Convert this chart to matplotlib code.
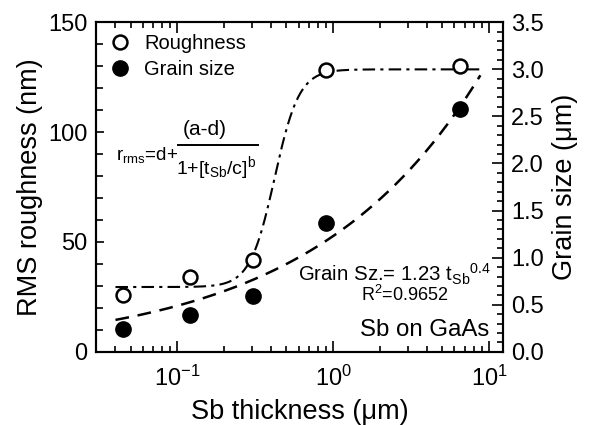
import numpy as np
import matplotlib
matplotlib.use("Agg")
import matplotlib.pyplot as plt
from matplotlib.lines import Line2D
from matplotlib.ticker import MultipleLocator, LogLocator

plt.rcParams['font.family'] = ['Liberation Sans', 'DejaVu Sans']
plt.rcParams['mathtext.fontset'] = 'custom'
plt.rcParams['mathtext.rm'] = 'Liberation Sans'
plt.rcParams['mathtext.it'] = 'Liberation Sans'

# measured points
thickness = [0.045, 0.121, 0.305, 0.90, 6.5]
roughness = [26, 34, 42, 128, 130]
grain_size = [0.24, 0.39, 0.59, 1.37, 2.58]

# fit parameters (sigmoid for roughness, power law for grain size)
fit_a, fit_b, fit_c, fit_d = 29.5, 5.5, 0.42, 128.5
grain_k, grain_n = 1.23, 0.4
fit_range = (0.04, 8.8)

t = np.geomspace(fit_range[0], fit_range[1], 400)
r_fit = fit_d + (fit_a - fit_d) / (1 + (t / fit_c) ** fit_b)
g_fit = grain_k * t ** grain_n

fig = plt.figure(figsize=(5.89, 4.25), dpi=100)
ax = fig.add_axes([0.163, 0.172, 0.691, 0.776])
ax2 = ax.twinx()

ax.plot(t, r_fit, color='black', lw=1.5, dashes=[6, 2.5, 1.5, 2.5])
ax2.plot(t, g_fit, color='black', lw=1.8, dashes=[5.5, 3.5])
ax.plot(thickness, roughness, 'o', ms=10, mfc='white', mec='black', mew=1.8,
        zorder=5)
ax2.plot(thickness, grain_size, 'o', ms=11, mfc='black', mec='black',
         zorder=5)

ax.set_xscale('log')
ax.set_xlim(0.03, 12.3)
ax.set_ylim(0, 150)
ax2.set_ylim(0, 3.5)

ax.yaxis.set_major_locator(MultipleLocator(50))
ax.yaxis.set_minor_locator(MultipleLocator(10))
ax2.yaxis.set_major_locator(MultipleLocator(0.5))
ax2.yaxis.set_minor_locator(MultipleLocator(0.1))
ax2.yaxis.set_major_formatter(matplotlib.ticker.FormatStrFormatter('%.1f'))
ax.xaxis.set_major_locator(LogLocator(base=10))
ax.xaxis.set_minor_locator(LogLocator(base=10, subs=np.arange(2, 10)))
ax.xaxis.set_minor_formatter(matplotlib.ticker.NullFormatter())

for a in (ax, ax2):
    for s in a.spines.values():
        s.set_linewidth(1.5)
ax.tick_params(axis='both', which='both', direction='in', labelsize=17,
               width=1.2)
ax.tick_params(axis='x', which='both', top=True)
ax.tick_params(axis='x', which='major', length=8, pad=10)
ax.tick_params(axis='x', which='minor', length=4.5)
ax.tick_params(axis='y', which='major', length=6, pad=6)
ax.tick_params(axis='y', which='minor', length=5)
ax2.tick_params(axis='y', which='both', direction='in', labelsize=17,
                width=1.2, pad=6)
ax2.tick_params(axis='y', which='major', length=8)
ax2.tick_params(axis='y', which='minor', length=4)

ax.set_xlabel('Sb thickness (μm)', fontsize=19.5, labelpad=6)
ax.set_ylabel('RMS roughness (nm)', fontsize=19.5, labelpad=4)
ax2.set_ylabel('Grain size (μm)', fontsize=19.5, labelpad=6)

handles = [
    Line2D([], [], ls='none', marker='o', ms=10, mfc='white', mec='black',
           mew=1.8),
    Line2D([], [], ls='none', marker='o', ms=11, mfc='black', mec='black'),
]
ax.legend(handles, ['Roughness', 'Grain size'], loc='upper left',
          frameon=False, fontsize=14.5, handletextpad=0.6, borderaxespad=0.2,
          labelspacing=0.35, handlelength=1.2)

# fit equation
ax.text(0.049, 0.597, r'r$_{\mathregular{rms}}$=d+', transform=ax.transAxes,
        fontsize=13.5, ha='left', va='center')
ax.plot([0.201, 0.398], [0.627, 0.627], color='black', lw=1.4,
        transform=ax.transAxes)
ax.text(0.268, 0.675, '(a-d)', transform=ax.transAxes, fontsize=15,
        ha='center', va='center')
ax.text(0.295, 0.558, r'1+[t$_{\mathregular{Sb}}$/c]$^{\mathregular{b}}$',
        transform=ax.transAxes, fontsize=14, ha='center', va='center')

ax.text(0.972, 0.236,
        r'Grain Sz.= 1.23 t$_{\mathregular{Sb}}$$^{\mathregular{0.4}}$',
        transform=ax.transAxes, fontsize=14.7, ha='right', va='center')
ax.text(0.759, 0.173, r'R$^{\mathregular{2}}$=0.9652', transform=ax.transAxes,
        fontsize=13, ha='center', va='center')
ax.text(0.966, 0.067, 'Sb on GaAs', transform=ax.transAxes, fontsize=17.3,
        ha='right', va='center')

fig.savefig('out.png', dpi=100)
